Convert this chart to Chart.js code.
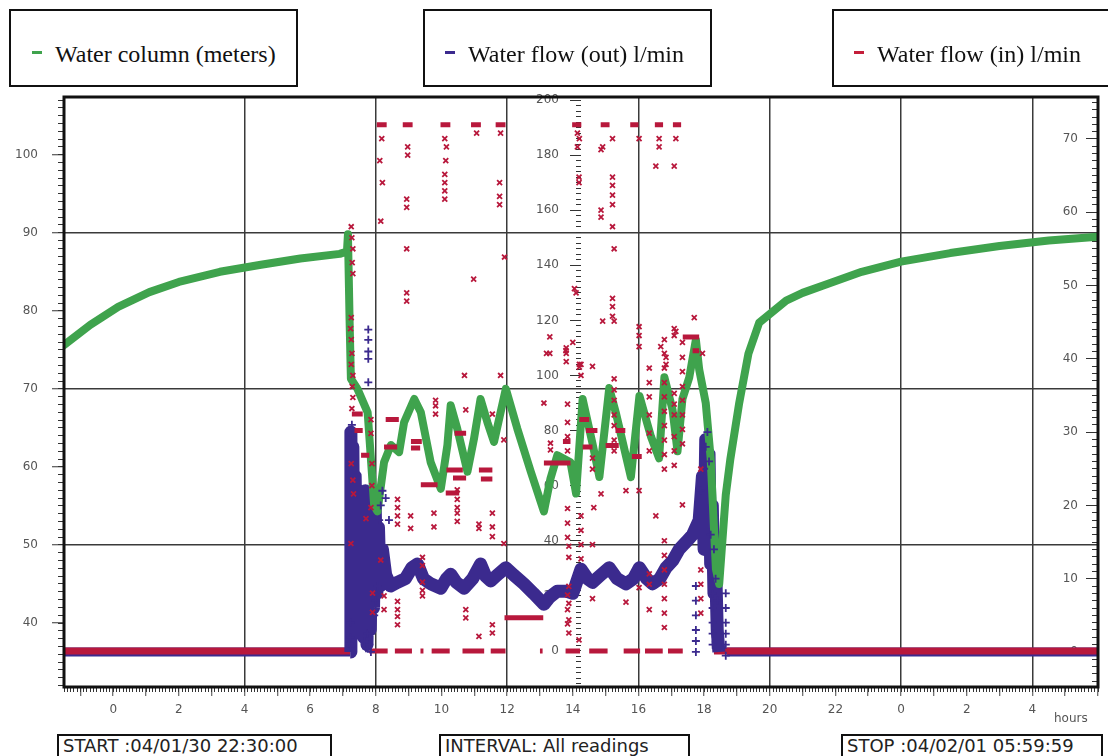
<!DOCTYPE html>
<html>
<head>
<meta charset="utf-8">
<title>Water column / water flow log</title>
<script src="https://cdn.jsdelivr.net/npm/chart.js@4.4.1/dist/chart.umd.min.js"></script>
<style>
  html, body { margin: 0; padding: 0; background: #fff; }
  #wrap { position: relative; width: 1108px; height: 756px; overflow: hidden; }
  #chart { position: absolute; left: 0; top: 0; }
  .legend-box { position: absolute; top: 9px; height: 78px; box-sizing: border-box; border: 2px solid #111; background: #fff;
    font-family: 'Liberation Serif', 'Times New Roman', serif; font-size: 24px; line-height: 24px; color: #111; }
  .legend-box .key { position: absolute; top: 40px; width: 10px; height: 3px; }
  .legend-box .label { position: absolute; top: 31px; white-space: nowrap; }
  .info-box { position: absolute; top: 734px; height: 32px; box-sizing: border-box; border: 2px solid #111; background: #fff;
    font-family: 'DejaVu Sans', sans-serif; font-size: 18px; line-height: 20px; color: #222; padding-left: 4px; white-space: nowrap; }
  #hours { position: absolute; left: 1054px; top: 711px; font-family: 'DejaVu Sans', sans-serif; font-size: 12px; color: #555; }
</style>
</head>
<body>
<div id="wrap">
  <canvas id="chart" width="1108" height="756"></canvas>

  <div class="legend-box" style="left:9px;width:289px">
    <span class="key" style="left:21px;background:#3fa34d"></span><span class="label" style="left:44px">Water column (meters)</span>
  </div>
  <div class="legend-box" style="left:423px;width:289px">
    <span class="key" style="left:20px;background:#3b2a8e"></span><span class="label" style="left:43px">Water flow (out) l/min</span>
  </div>
  <div class="legend-box" style="left:832px;width:300px">
    <span class="key" style="left:20px;background:#c41e3a"></span><span class="label" style="left:43px">Water flow (in) l/min</span>
  </div>

  <div id="hours">hours</div>
  <div class="info-box" style="left:57px;width:275px">START :04/01/30 22:30:00</div>
  <div class="info-box" style="left:439px;width:251px">INTERVAL: All readings</div>
  <div class="info-box" style="left:841px;width:262px">STOP :04/02/01 05:59:59</div>
</div>

<script>
// x = hours after midnight 04/01/31 (log starts 22:30 the evening before => -1.5)
const hourRange = [-1.5, 30];
const meterRange = [31.8, 107.4];     // left axis, water column
const flowInRange = [-13.1, 201.1];   // middle axis
const flowOutRange = [-4.78, 75.73];  // right axis

// water column (m): [hour, meters]
const waterColumn = [
  [-1.5, 75.6], [-0.7, 78.2], [0.15, 80.5], [1.1, 82.4], [2.0, 83.7], [3.25, 85.0], [4.5, 85.9],
  [5.7, 86.7], [6.9, 87.3], [7.12, 87.6], [7.15, 89.8], [7.2, 78.8], [7.24, 71.3], [7.44, 70],
  [7.75, 67], [7.95, 55], [8.05, 54.3], [8.25, 60.6], [8.46, 62.8], [8.71, 61.9], [8.86, 65.7],
  [9.17, 68.7], [9.37, 67], [9.67, 60.6], [9.98, 57.2], [10.18, 62.8], [10.28, 67.9], [10.48, 64.9],
  [10.79, 59.4], [10.99, 63.6], [11.19, 68.7], [11.4, 65.7], [11.6, 63.2], [11.8, 67], [11.96, 70],
  [12.31, 64.9], [12.72, 59.4], [13.12, 54.3], [13.32, 58.5], [13.53, 61.5], [13.93, 60.6],
  [14.1, 56.6], [14.3, 68.7], [14.6, 63], [14.81, 58.7], [15.11, 70.1], [15.32, 66.8], [15.77, 58.7],
  [16.03, 69.1], [16.38, 63.9], [16.63, 61.1], [16.79, 71.5], [17.04, 67.3], [17.19, 62],
  [17.34, 68.7], [17.55, 71.5], [17.75, 76.3], [17.85, 72.5], [18.05, 68.2], [18.2, 61.1],
  [18.36, 46.9], [18.46, 45.0], [18.66, 56.4], [18.8, 61], [19.07, 68.2], [19.35, 74.5],
  [19.68, 78.5], [20.5, 81.3], [21, 82.3], [21.8, 83.5], [22.8, 85], [24, 86.3], [25.5, 87.4],
  [27, 88.3], [28.5, 89], [30, 89.5]
];

// water flow out (l/min), dense band of readings: [hour, l/min]
const flowOutBand = [
  [7.22, 0], [7.24, 30], [7.27, 10], [7.3, 28], [7.33, 12], [7.37, 24], [7.42, 10], [7.47, 20],
  [7.52, 8], [7.58, 18], [7.63, 2], [7.68, 22], [7.73, 1], [7.78, 18], [7.83, 3], [7.88, 16],
  [7.93, 6], [7.98, 20], [8.03, 8], [8.08, 17], [8.13, 9], [8.2, 14], [8.3, 10.5], [8.45, 9],
  [8.66, 9.5], [8.9, 10], [9.1, 11.5], [9.27, 12], [9.45, 10], [9.67, 9.3], [9.98, 8.7],
  [10.15, 10], [10.28, 10.6], [10.45, 9.5], [10.69, 8.7], [10.95, 10], [11.19, 12], [11.35, 10.3],
  [11.5, 9.7], [11.7, 10.5], [11.96, 11.5], [12.2, 10.5], [12.51, 9.3], [12.8, 8], [13.12, 6.5],
  [13.3, 7.5], [13.53, 8.3], [13.8, 8.3], [14.0, 8], [14.25, 11.3], [14.45, 10], [14.6, 9.5],
  [14.85, 10.5], [15.11, 11.5], [15.35, 10], [15.62, 9.3], [15.85, 10], [16.03, 11.5], [16.25, 10],
  [16.43, 9.3], [16.65, 10], [16.84, 11.5], [17.05, 12.5], [17.24, 14], [17.45, 15], [17.65, 16],
  [17.85, 18], [17.95, 24], [18.0, 14], [18.05, 29], [18.1, 16], [18.15, 27], [18.2, 12],
  [18.25, 20], [18.3, 8], [18.35, 12], [18.4, 3], [18.45, 0]
];

// single flow-out readings standing off the band
const flowOutMarks = [
  [7.77, 44], [7.77, 42.6], [7.77, 41], [7.77, 40], [7.77, 36.8], [7.27, 31], [7.3, 29.5],
  [7.24, 4], [7.24, 2], [7.24, 0.7], [7.2, 1.2], [7.65, 1.5], [7.7, 0.5], [7.75, 2.5], [7.8, 1],
  [7.85, 0], [7.88, 3], [7.95, 5], [8.0, 7], [8.05, 9], [8.1, 18], [8.15, 20], [8.2, 22],
  [8.3, 21], [8.4, 18], [18.0, 25], [18.05, 28], [18.1, 30], [18.15, 26], [17.9, 22], [18.2, 16],
  [18.3, 14], [18.35, 10], [18.4, 7],
  [17.75, 9], [17.75, 7], [17.75, 5], [17.75, 3], [17.75, 1.5], [17.75, 0],
  [18.26, 8], [18.26, 6], [18.26, 4], [18.26, 2.5], [18.26, 1],
  [18.66, 8], [18.66, 6], [18.66, 4], [18.66, 2.5], [18.66, 1], [18.66, -0.5]
];

// flow out idle at 0: [from hour, to hour]
const flowOutIdle = [[-1.5, 7.22], [18.7, 30]];

// water flow in (l/min), scattered readings: [hour, l/min]
const flowInMarks = [
  [7.25, 154], [7.27, 150], [7.3, 146], [7.28, 141], [7.3, 137], [7.25, 121], [7.23, 117], [7.25, 113],
  [7.27, 108], [7.25, 104], [7.3, 100], [7.28, 96], [7.3, 92], [7.27, 88], [7.25, 68], [7.3, 62],
  [7.32, 57], [7.24, 39], [7.85, 84], [7.85, 79], [7.88, 68], [7.88, 60], [7.85, 52], [7.7, 48],
  [8.15, 33], [7.9, 21], [7.9, 14], [8.25, 20], [8.25, 15],
  [8.18, 186], [8.12, 178], [8.2, 170], [8.15, 156], [8.97, 183], [8.97, 180], [8.94, 164], [8.94, 161],
  [8.94, 146], [8.94, 130], [8.94, 127], [10.1, 186], [10.15, 183], [10.13, 178], [10.1, 173],
  [10.1, 170], [10.1, 167], [10.1, 164], [11.07, 188], [10.98, 135], [11.8, 188], [11.77, 170],
  [11.77, 165], [11.77, 162], [11.92, 143], [10.7, 100], [11.8, 100], [13.3, 114], [13.2, 108],
  [13.3, 108], [13.8, 110], [13.8, 108], [13.8, 105], [14.2, 103], [14.14, 188], [14.14, 183],
  [14.19, 172], [14.19, 170], [14.1, 130],
  [8.66, 55], [8.66, 52], [8.66, 49], [8.66, 46], [8.66, 18], [8.66, 15], [8.66, 12.5], [8.66, 9.5],
  [9.06, 49], [9.06, 44.5], [9.42, 34], [9.42, 31], [9.42, 25], [9.42, 22], [9.42, 20], [9.77, 50],
  [9.77, 45], [9.82, 91], [9.82, 89], [9.82, 86], [10.48, 58.5], [10.48, 55], [10.48, 52],
  [10.48, 50], [10.48, 47], [10.74, 87.5], [10.74, 15], [10.74, 12], [11.14, 5.3], [11.14, 46],
  [11.14, 44.5], [11.55, 86], [11.55, 50], [11.55, 45], [11.55, 41.5], [11.55, 9.5], [11.55, 6.5],
  [11.9, 76.6], [11.9, 39], [13.12, 90], [13.32, 75.4], [13.32, 73], [13.88, 38], [13.88, 34],
  [13.88, 23.4], [13.88, 17.3], [13.88, 11.3], [13.88, 6.5], [14.19, 4], [14.64, 52],
  [14.2, 186], [15.21, 186], [16.02, 186], [16.63, 186], [17.14, 186], [14.91, 183], [16.63, 183],
  [14.86, 182], [16.53, 176], [17.09, 176], [15.21, 172], [15.21, 169], [15.21, 165.5], [15.21, 162],
  [14.86, 160], [14.86, 157.5], [15.21, 154], [15.26, 146], [14.05, 131.5], [15.21, 128], [15.21, 125],
  [15.21, 121.5], [14.91, 119.7], [15.26, 119.7], [16.02, 117.7], [16.02, 114.5], [17.14, 116],
  [16.02, 110.5], [16.68, 110.5], [16.84, 106.6], [16.84, 104], [13.79, 109], [14.0, 112], [14.2, 104],
  [17.95, 108],
  [13.84, 89.6], [13.84, 83], [13.84, 77.8], [13.84, 72.6], [13.84, 51.7], [13.84, 46.4], [13.84, 41.2],
  [13.84, 20.3], [13.84, 15], [13.84, 9.8], [14.25, 104], [14.25, 100], [14.25, 49], [14.25, 43.8],
  [14.25, 38.6], [14.25, 33.4], [14.6, 103.3], [14.6, 70], [14.6, 66], [14.6, 38.6], [14.6, 19],
  [14.86, 57], [15.26, 98.8], [15.26, 94.8], [15.26, 91], [15.26, 85.7], [15.26, 81.8], [15.26, 76.5],
  [15.26, 72.6], [15.62, 58.2], [15.62, 17.7], [16.02, 58.2], [16.02, 23], [16.33, 102.7], [16.33, 97.4],
  [16.33, 92.2], [16.33, 85.7], [16.33, 79.1], [16.33, 72.6], [16.33, 28], [16.33, 24.2], [16.33, 15],
  [16.53, 49], [16.79, 113], [16.79, 108], [16.79, 102.7], [16.79, 97.4], [16.79, 92.2], [16.79, 87],
  [16.79, 81.8], [16.79, 76.5], [16.79, 71.3], [16.79, 66], [16.79, 40], [16.79, 34.7], [16.79, 29.4],
  [16.79, 24.2], [16.79, 19], [16.79, 13.7], [16.79, 8.5], [17.09, 117], [17.09, 114.5], [17.09, 93.5],
  [17.09, 89.6], [17.09, 85.7], [17.09, 77.8], [17.09, 72.6], [17.09, 67.4], [17.34, 112], [17.34, 106.6],
  [17.34, 101.4], [17.34, 96], [17.34, 91], [17.34, 85.7], [17.34, 80.4], [17.34, 75.2], [17.34, 53],
  [17.7, 121], [17.9, 66], [17.9, 29.4], [17.9, 24.2], [17.9, 19], [17.9, 13.7]
];

// runs of identical flow-in readings: [from hour, to hour, l/min]
const flowInRuns = [
  [8.03, 8.33, 191], [8.82, 9.12, 191], [9.97, 10.27, 191], [10.9, 11.2, 191], [11.65, 11.95, 191],
  [13.98, 14.26, 191], [14.85, 15.12, 191], [15.75, 16.0, 191], [16.5, 16.75, 191], [17.05, 17.3, 191],
  [7.27, 7.6, 86], [7.35, 7.6, 80], [7.55, 7.8, 71], [8.3, 8.7, 84], [8.25, 8.65, 74], [9.07, 9.4, 76],
  [9.07, 9.35, 73.7], [9.37, 9.88, 60.3], [10.13, 10.54, 57.3], [10.35, 10.75, 62.8], [10.15, 10.65, 65.7],
  [10.4, 10.75, 79], [11.14, 11.55, 65.7], [11.2, 11.55, 62.4], [11.92, 13.1, 12], [13.12, 13.93, 68.2],
  [13.7, 13.93, 76], [14.2, 14.5, 84], [14.3, 14.6, 74], [14.4, 14.75, 80], [15.0, 15.4, 74.6],
  [15.3, 15.6, 80], [15.8, 16.1, 70.6], [17.35, 17.85, 114], [17.65, 17.85, 109]
];

// flow in at 0: continuous idle, and the broken runs while pumping
const flowInIdle = [[-1.5, 7.22], [18.3, 30]];
const flowInZeroRuns = [
  [7.8, 8.36], [8.58, 9.1], [9.36, 9.45], [9.7, 10.25], [10.64, 11.3], [11.5, 11.95], [13.0, 13.08],
  [13.78, 14.22], [14.5, 15.06], [15.55, 16.05], [16.2, 16.74], [16.9, 17.35]
];

const GREEN = '#3fa34d', BLUE = '#3b2a8e', RED = '#b8183c';
const tickFont = { family: 'DejaVu Sans', size: 12 };
const clear = 'rgba(0,0,0,0)';

// where the tick combs sit (hours) and where their labels end
const midAxisAt = 14.25, midLabelsAt = 13.58, rightLabelsAt = 29.39;

const toPoints = arr => arr.map(([x, y]) => ({ x, y }));
// a flat run -> two points and a gap after it
const toRuns = (arr, level) => arr.flatMap(([a, b, v]) => {
  const y = v === undefined ? level : v;
  return [{ x: a, y }, { x: b, y }, { x: b, y: null }];
});

// ticks on whole multiples of step, whatever the axis ends are
const stepTicks = step => scale => {
  const ticks = [];
  const first = Math.ceil(scale.min / step - 1e-9);
  const last = Math.floor(scale.max / step + 1e-9);
  for (let i = first; i <= last; i++) ticks.push({ value: +(i * step).toFixed(4) });
  scale.ticks = ticks;
};

// thick frame round the plot
const framePlugin = {
  id: 'frame',
  afterDraw(chart) {
    const { ctx, chartArea: a } = chart;
    ctx.save();
    ctx.lineWidth = 3;
    ctx.strokeStyle = '#111';
    ctx.strokeRect(a.left, a.top, a.right - a.left, a.bottom - a.top);
    ctx.restore();
  }
};

// axis drawing only tick marks
function tickAxis(axis, position, range, step, len) {
  return {
    type: 'linear', axis, position, min: range[0], max: range[1], bounds: 'data',
    afterBuildTicks: stepTicks(step),
    border: { display: false },
    grid: { drawOnChartArea: false, tickLength: len, tickColor: '#333', tickWidth: 1 },
    ticks: { display: false, autoSkip: false }
  };
}

// axis drawing only the numbers (right-aligned at its position)
function labelAxis(position, range, step) {
  return {
    type: 'linear', axis: 'y', position, min: range[0], max: range[1], bounds: 'data',
    afterBuildTicks: stepTicks(step),
    border: { display: false },
    grid: { drawOnChartArea: false, drawTicks: false },
    ticks: { autoSkip: false, padding: 0, color: '#555', font: tickFont, callback: v => String(v) }
  };
}

new Chart(document.getElementById('chart'), {
  type: 'scatter',
  data: {
    datasets: [
      { label: 'Water flow (in) l/min', data: toPoints(flowInMarks), yAxisID: 'yMid',
        pointStyle: 'crossRot', pointRadius: 3.5, borderColor: RED, borderWidth: 1.8, order: 0 },
      { label: 'flow in runs', data: toRuns(flowInRuns), yAxisID: 'yMid', showLine: true, spanGaps: false,
        borderColor: RED, borderWidth: 5, pointRadius: 0, order: 1 },
      { label: 'Water flow (out) l/min', data: toPoints(flowOutMarks), yAxisID: 'yR',
        pointStyle: 'cross', pointRadius: 4, borderColor: BLUE, borderWidth: 1.8, order: 2 },
      { label: 'Water column (meters)', data: toPoints(waterColumn), yAxisID: 'y', showLine: true,
        borderColor: GREEN, borderWidth: 8, borderJoinStyle: 'round', borderCapStyle: 'round', pointRadius: 0, order: 3 },
      { label: 'flow out band', data: toPoints(flowOutBand), yAxisID: 'yR', showLine: true,
        borderColor: BLUE, borderWidth: 13, borderJoinStyle: 'round', pointRadius: 0, order: 4 },
      { label: 'flow in zero runs', data: toRuns(flowInZeroRuns, 0), yAxisID: 'yMid', showLine: true, spanGaps: false,
        borderColor: RED, borderWidth: 5, pointRadius: 0, order: 5 },
      { label: 'flow in idle', data: toRuns(flowInIdle, 0), yAxisID: 'yMid', showLine: true, spanGaps: false,
        borderColor: RED, borderWidth: 7, pointRadius: 0, order: 6 },
      { label: 'flow out idle', data: toRuns(flowOutIdle, 0), yAxisID: 'yR', showLine: true, spanGaps: false,
        borderColor: BLUE, borderWidth: 9, pointRadius: 0, order: 7 }
    ]
  },
  options: {
    responsive: false,
    animation: false,
    devicePixelRatio: 1,
    layout: { padding: { left: 0, right: 10, top: 97, bottom: 0 } },
    plugins: { legend: { display: false }, tooltip: { enabled: false } },
    scales: {
      x: {
        type: 'linear', position: 'bottom', min: hourRange[0], max: hourRange[1], bounds: 'data',
        afterBuildTicks: stepTicks(1),
        afterFit: s => { s.height = 69; },
        border: { display: false },
        grid: {
          color: c => (c.tick && c.tick.value > 0 && c.tick.value < 30 && c.tick.value % 4 === 0) ? '#3a3a3a' : clear,
          lineWidth: 1.5,
          tickLength: 9,
          tickWidth: 1,
          tickColor: '#444'
        },
        ticks: {
          autoSkip: false, maxRotation: 0, padding: 7, color: '#555', font: tickFont,
          callback: v => (v >= 0 && v < 30 && v % 2 === 0) ? String(v % 24) : ''
        }
      },
      xMinor: tickAxis('x', { y: meterRange[0] }, hourRange, 0.1, 5),
      y: {
        type: 'linear', position: 'left', min: meterRange[0], max: meterRange[1], bounds: 'data',
        afterBuildTicks: stepTicks(10),
        afterFit: s => { s.width = 64; },
        border: { display: false },
        grid: {
          color: c => (c.tick && [50, 70, 90].includes(c.tick.value)) ? '#3a3a3a' : clear,
          lineWidth: 1.5,
          tickLength: 12,
          tickWidth: 1,
          tickColor: '#333'
        },
        ticks: { autoSkip: false, padding: 14, color: '#555', font: tickFont, callback: v => String(v) }
      },
      yMinor: tickAxis('y', { x: hourRange[0] }, meterRange, 1, 6),
      yMid: tickAxis('y', { x: midAxisAt }, flowInRange, 20, 11),
      yMidMinor: tickAxis('y', { x: midAxisAt }, flowInRange, 2, 5),
      yMidLabels: labelAxis({ x: midLabelsAt }, flowInRange, 20),
      yR: tickAxis('y', { x: hourRange[1] }, flowOutRange, 10, 12),
      yRMinor: tickAxis('y', { x: hourRange[1] }, flowOutRange, 1, 6),
      yRLabels: labelAxis({ x: rightLabelsAt }, flowOutRange, 10)
    }
  },
  plugins: [framePlugin]
});
</script>
</body>
</html>
